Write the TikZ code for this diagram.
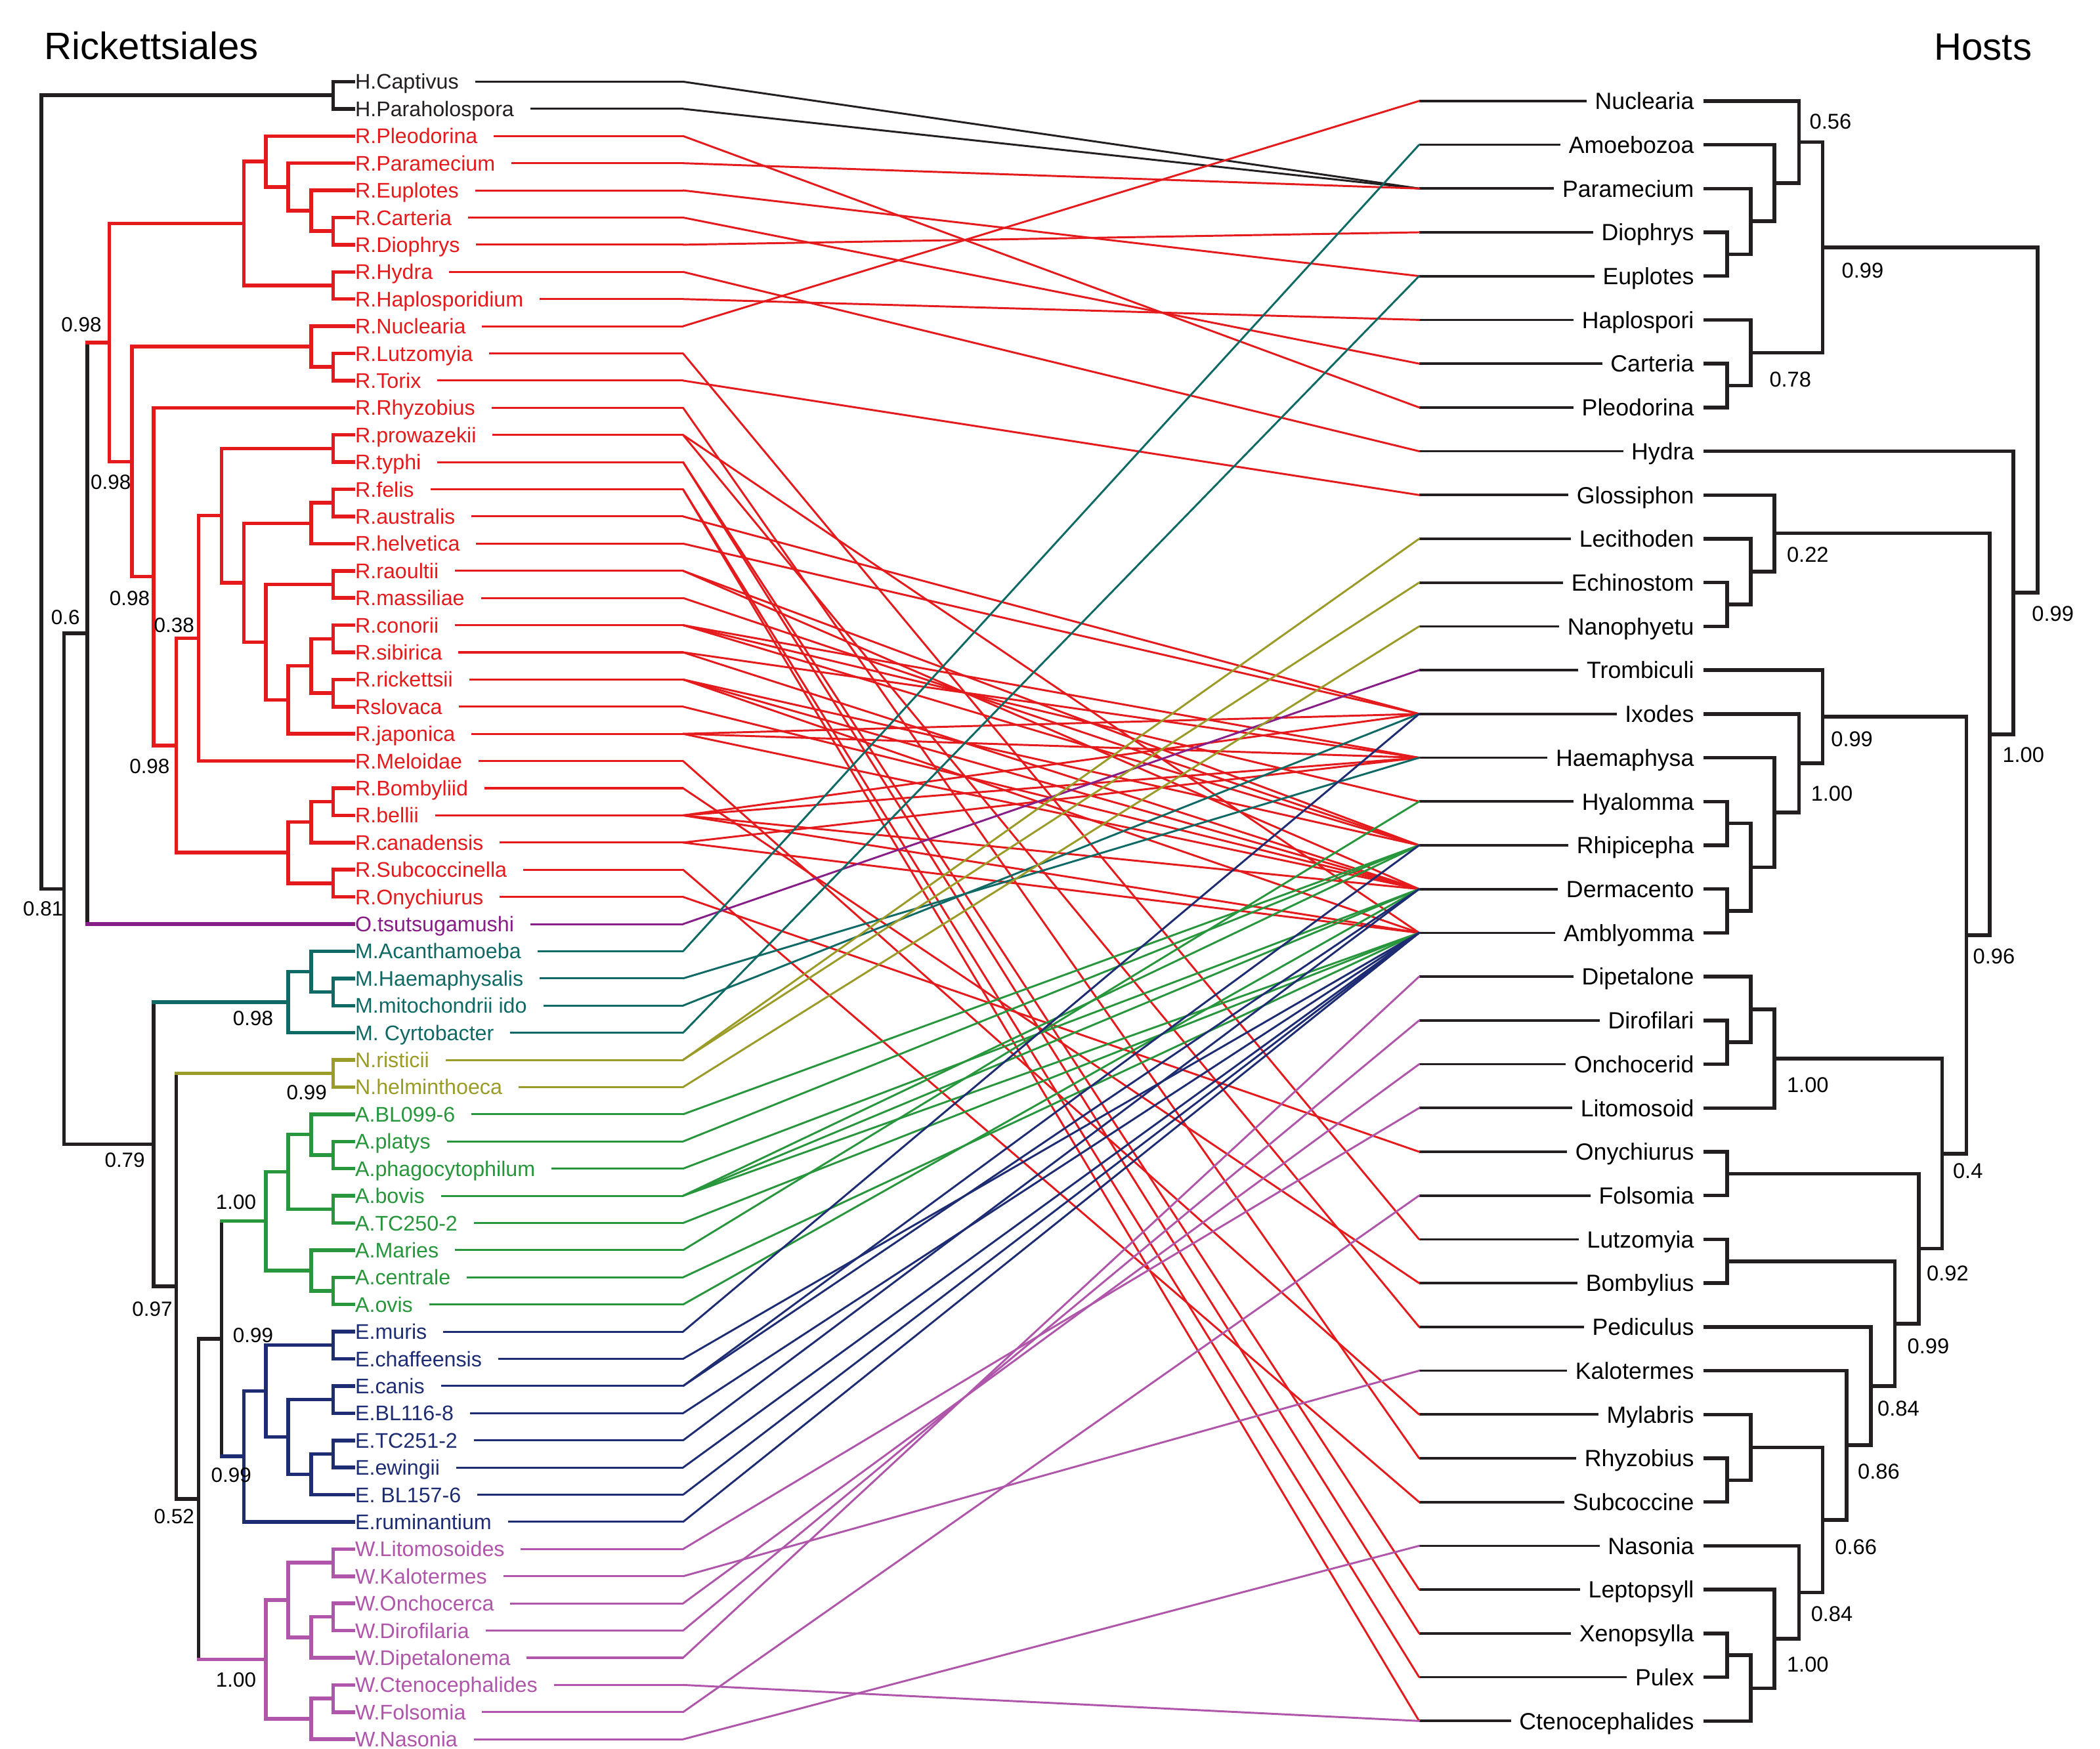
\documentclass[tikz,border=0pt]{standalone}
\usepackage{fontspec}
\setmainfont{Liberation Sans}
\usetikzlibrary{calc}
\definecolor{rred}{RGB}{228,26,28}
\definecolor{rblk}{RGB}{35,31,32}
\definecolor{rpur}{RGB}{135,30,135}
\definecolor{rteal}{RGB}{15,105,100}
\definecolor{rolive}{RGB}{155,155,40}
\definecolor{rgreen}{RGB}{40,150,60}
\definecolor{rnavy}{RGB}{30,45,115}
\definecolor{rpink}{RGB}{176,86,170}
\tikzset{
  tree/.style={line width=2.7pt,line cap=rect},
  stub/.style={line width=1.5pt},
  conn/.style={line width=1.45pt,line cap=round},
  hstub/.style={line width=1.8pt,rblk},
  llab/.style={anchor=west,inner sep=0pt,font=\fontsize{15.8}{18}\selectfont,text height=11.3pt,text depth=0pt},
  hlab/.style={anchor=east,inner sep=0pt,font=\fontsize{17.5}{20}\selectfont,text height=12.5pt,text depth=0pt,text=black},
  supl/.style={anchor=base west,inner sep=0pt,font=\fontsize{15.4}{18}\selectfont,text=black},
  supr/.style={anchor=base west,inner sep=0pt,font=\fontsize{16}{18}\selectfont,text=black},
  ttl/.style={anchor=base west,inner sep=0pt,font=\fontsize{28.5}{32}\selectfont,text=black}
}
\newcommand{\clade}[6]{%
  \draw[tree,#4] (#2 -| #1) -- (#3 -| #1);
  \draw[tree,#5] (#2) -- (#2 -| #1);
  \draw[tree,#6] (#3) -- (#3 -| #1);}
\newcommand{\cl}[3]{\clade{#1}{#2}{#3}{\curcol}{\curcol}{\curcol}}
\begin{document}
\begin{tikzpicture}[x=1pt,y=-1pt]
\fill[white] (0,0) rectangle (1568,1306);
\useasboundingbox (0,0) rectangle (1568,1306);

\node[ttl] (ttlL) at (33,44.2) {Rickettsiales};
\node[ttl] (ttlR) at (1444,45) {Hosts};

% ---------- left leaves ----------
\foreach \i/\nm/\c in {1/H.Captivus/rblk,2/H.Paraholospora/rblk,3/R.Pleodorina/rred,4/R.Paramecium/rred,5/R.Euplotes/rred,6/R.Carteria/rred,7/R.Diophrys/rred,8/R.Hydra/rred,9/R.Haplosporidium/rred,10/R.Nuclearia/rred,11/R.Lutzomyia/rred,12/R.Torix/rred,13/R.Rhyzobius/rred,14/R.prowazekii/rred,15/R.typhi/rred,16/R.felis/rred,17/R.australis/rred,18/R.helvetica/rred,19/R.raoultii/rred,20/R.massiliae/rred,21/R.conorii/rred,22/R.sibirica/rred,23/R.rickettsii/rred,24/Rslovaca/rred,25/R.japonica/rred,26/R.Meloidae/rred,27/R.Bombyliid/rred,28/R.bellii/rred,29/R.canadensis/rred,30/R.Subcoccinella/rred,31/R.Onychiurus/rred,32/O.tsutsugamushi/rpur,33/M.Acanthamoeba/rteal,34/M.Haemaphysalis/rteal,35/M.mitochondrii ido/rteal,36/M. Cyrtobacter/rteal,37/N.risticii/rolive,38/N.helminthoeca/rolive,39/A.BL099-6/rgreen,40/A.platys/rgreen,41/A.phagocytophilum/rgreen,42/A.bovis/rgreen,43/A.TC250-2/rgreen,44/A.Maries/rgreen,45/A.centrale/rgreen,46/A.ovis/rgreen,47/E.muris/rnavy,48/E.chaffeensis/rnavy,49/E.canis/rnavy,50/E.BL116-8/rnavy,51/E.TC251-2/rnavy,52/E.ewingii/rnavy,53/E. BL157-6/rnavy,54/E.ruminantium/rnavy,55/W.Litomosoides/rpink,56/W.Kalotermes/rpink,57/W.Onchocerca/rpink,58/W.Dirofilaria/rpink,59/W.Dipetalonema/rpink,60/W.Ctenocephalides/rpink,61/W.Folsomia/rpink,62/W.Nasonia/rpink}{
  \pgfmathsetmacro\yy{61+20.295*(\i-1)}
  \coordinate (lf\i) at (263.6,\yy);
  \coordinate (s\i) at (510,\yy);
  \node[llab,text=\c] (t\i) at (265,\yy) {\nm};
  \draw[stub,\c] (t\i.east |- lf\i) ++(12,0) -- (s\i);
}

% ---------- hosts ----------
\foreach \k/\nm in {1/Nuclearia,2/Amoebozoa,3/Paramecium,4/Diophrys,5/Euplotes,6/Haplospori,7/Carteria,8/Pleodorina,9/Hydra,10/Glossiphon,11/Lecithoden,12/Echinostom,13/Nanophyetu,14/Trombiculi,15/Ixodes,16/Haemaphysa,17/Hyalomma,18/Rhipicepha,19/Dermacento,20/Amblyomma,21/Dipetalone,22/Dirofilari,23/Onchocerid,24/Litomosoid,25/Onychiurus,26/Folsomia,27/Lutzomyia,28/Bombylius,29/Pediculus,30/Kalotermes,31/Mylabris,32/Rhyzobius,33/Subcoccine,34/Nasonia,35/Leptopsyll,36/Xenopsylla,37/Pulex,38/Ctenocephalides}{
  \pgfmathsetmacro\yy{75.4+32.7*(\k-1)}
  \coordinate (hp\k) at (1059.6,\yy);
  \coordinate (rl\k) at (1273.1,\yy);
  \node[hlab] (h\k) at (1265,\yy) {\nm};
  \draw[hstub] (h\k.west |- hp\k) ++(-6,0) -- (hp\k);
}

% ---------- connectors ----------
\foreach \i/\k/\c in {1/3/rblk,2/3/rblk,3/8/rred,4/3/rred,5/5/rred,6/7/rred,7/4/rred,8/9/rred,9/6/rred,10/1/rred,11/27/rred,12/10/rred,13/32/rred,14/29/rred,14/20/rred,15/36/rred,15/35/rred,16/38/rred,16/37/rred,17/15/rred,18/15/rred,19/19/rred,19/18/rred,20/18/rred,21/18/rred,21/16/rred,21/17/rred,22/19/rred,22/16/rred,23/19/rred,23/18/rred,23/20/rred,24/19/rred,25/16/rred,25/15/rred,25/19/rred,26/31/rred,27/28/rred,28/15/rred,28/16/rred,28/19/rred,28/20/rred,29/16/rred,29/20/rred,30/33/rred,31/25/rred,32/14/rpur,33/2/rteal,34/16/rteal,35/15/rteal,36/5/rteal,37/11/rolive,37/12/rolive,38/13/rolive,39/18/rgreen,40/18/rgreen,41/19/rgreen,42/18/rgreen,42/19/rgreen,42/20/rgreen,43/20/rgreen,44/17/rgreen,45/20/rgreen,46/19/rgreen,47/15/rnavy,48/20/rnavy,49/18/rnavy,49/19/rnavy,50/20/rnavy,51/19/rnavy,52/20/rnavy,53/20/rnavy,54/20/rnavy,55/24/rpink,56/30/rpink,57/23/rpink,58/22/rpink,59/21/rpink,60/38/rpink,61/26/rpink,62/34/rpink}{
  \draw[conn,\c] (s\i) -- (hp\k);
}

% ---------- left tree nodes ----------
\coordinate (nH) at (248.7,71.15);
\coordinate (nCD) at (248.7,172.65);
\coordinate (nEu) at (232.4,157.4);
\coordinate (nPa) at (215.2,139.65);
\coordinate (nPl) at (198.6,120.6);
\coordinate (nHH) at (248.7,213.25);
\coordinate (nT1) at (182,166.9);
\coordinate (nLT) at (248.7,274.05);
\coordinate (nNu) at (232.4,258.9);
\coordinate (npt) at (248.7,334.95);
\coordinate (nfa) at (248.7,375.55);
\coordinate (nhe) at (232.4,390.8);
\coordinate (nrm) at (248.7,436.45);
\coordinate (ncs) at (248.7,477.05);
\coordinate (nrs) at (248.7,517.65);
\coordinate (ncr) at (232.4,497.35);
\coordinate (nja) at (215.2,522.7);
\coordinate (nrmj) at (198.6,479.6);
\coordinate (nspot) at (182,435.2);
\coordinate (ntyp) at (165.4,385.1);
\coordinate (nmel) at (148.2,476.7);
\coordinate (nBb) at (248.7,598.75);
\coordinate (nca) at (232.4,613.98);
\coordinate (nSO) at (248.7,659.65);
\coordinate (nbel) at (215.2,636.8);
\coordinate (n38) at (131.6,556.75);
\coordinate (nRh) at (114.8,430.6);
\coordinate (n98c) at (98.5,344.75);
\coordinate (n98b) at (81.6,255.8);
\coordinate (n06) at (65.3,472.95);
\coordinate (nHM) at (248.7,740.85);
\coordinate (nAcHM) at (232.4,725.6);
\coordinate (nM) at (215.2,748.45);
\coordinate (nN) at (248.7,801.75);
\coordinate (npp) at (248.7,862.55);
\coordinate (nBL) at (232.4,847.3);
\coordinate (nbt) at (248.7,903.15);
\coordinate (nA1) at (215.2,875.2);
\coordinate (nco) at (248.7,964.05);
\coordinate (nMa) at (232.4,948.8);
\coordinate (nA) at (198.6,912.0);
\coordinate (nmc) at (248.7,1004.65);
\coordinate (ncB) at (248.7,1045.25);
\coordinate (nTe) at (248.7,1085.85);
\coordinate (nB157) at (232.4,1101.1);
\coordinate (nE3) at (215.2,1073.2);
\coordinate (nE2) at (198.6,1038.9);
\coordinate (nE) at (182,1087.75);
\coordinate (nAE) at (165.4,999.9);
\coordinate (nLK) at (248.7,1166.95);
\coordinate (nOD) at (248.7,1207.55);
\coordinate (nDp) at (232.4,1222.8);
\coordinate (nW1) at (215.2,1194.9);
\coordinate (nCF) at (248.7,1268.45);
\coordinate (nNa) at (232.4,1283.7);
\coordinate (nW) at (198.6,1239.3);
\coordinate (n52) at (148.2,1119.6);
\coordinate (n97) at (131.6,960.7);
\coordinate (n79) at (114.8,854.6);
\coordinate (n81) at (47.8,663.8);
\coordinate (nroot) at (30.9,367.5);

\def\curcol{rblk}
\cl{nH}{lf1}{lf2}
\def\curcol{rred}
\cl{nCD}{lf6}{lf7}
\cl{nEu}{lf5}{nCD}
\cl{nPa}{lf4}{nEu}
\cl{nPl}{lf3}{nPa}
\cl{nHH}{lf8}{lf9}
\cl{nT1}{nPl}{nHH}
\cl{nLT}{lf11}{lf12}
\cl{nNu}{lf10}{nLT}
\cl{npt}{lf14}{lf15}
\cl{nfa}{lf16}{lf17}
\cl{nhe}{nfa}{lf18}
\cl{nrm}{lf19}{lf20}
\cl{ncs}{lf21}{lf22}
\cl{nrs}{lf23}{lf24}
\cl{ncr}{ncs}{nrs}
\cl{nja}{ncr}{lf25}
\cl{nrmj}{nrm}{nja}
\cl{nspot}{nhe}{nrmj}
\cl{ntyp}{npt}{nspot}
\cl{nmel}{ntyp}{lf26}
\cl{nBb}{lf27}{lf28}
\cl{nca}{nBb}{lf29}
\cl{nSO}{lf30}{lf31}
\cl{nbel}{nca}{nSO}
\cl{n38}{nmel}{nbel}
\cl{nRh}{lf13}{n38}
\cl{n98c}{nNu}{nRh}
\cl{n98b}{nT1}{n98c}
\clade{n06}{n98b}{lf32}{rblk}{rred}{rpur}
\def\curcol{rteal}
\cl{nHM}{lf34}{lf35}
\cl{nAcHM}{lf33}{nHM}
\cl{nM}{nAcHM}{lf36}
\def\curcol{rolive}
\cl{nN}{lf37}{lf38}
\def\curcol{rgreen}
\cl{npp}{lf40}{lf41}
\cl{nBL}{lf39}{npp}
\cl{nbt}{lf42}{lf43}
\cl{nA1}{nBL}{nbt}
\cl{nco}{lf45}{lf46}
\cl{nMa}{lf44}{nco}
\cl{nA}{nA1}{nMa}
\def\curcol{rnavy}
\cl{nmc}{lf47}{lf48}
\cl{ncB}{lf49}{lf50}
\cl{nTe}{lf51}{lf52}
\cl{nB157}{nTe}{lf53}
\cl{nE3}{ncB}{nB157}
\cl{nE2}{nmc}{nE3}
\cl{nE}{nE2}{lf54}
\clade{nAE}{nA}{nE}{rblk}{rgreen}{rnavy}
\def\curcol{rpink}
\cl{nLK}{lf55}{lf56}
\cl{nOD}{lf57}{lf58}
\cl{nDp}{nOD}{lf59}
\cl{nW1}{nLK}{nDp}
\cl{nCF}{lf60}{lf61}
\cl{nNa}{nCF}{lf62}
\cl{nW}{nW1}{nNa}
\clade{n52}{nAE}{nW}{rblk}{rblk}{rpink}
\clade{n97}{nN}{n52}{rblk}{rolive}{rblk}
\clade{n79}{nM}{n97}{rblk}{rteal}{rblk}
\def\curcol{rblk}
\cl{n81}{n06}{n79}
\cl{nroot}{nH}{n81}

% ---------- right tree nodes ----------
\coordinate (rDE) at (1289.5,189.85);
\coordinate (rPDE) at (1307.2,165.3);
\coordinate (rA) at (1324.9,136.7);
\coordinate (rN) at (1343.3,106.05);
\coordinate (rCP) at (1289.5,287.95);
\coordinate (rH) at (1307.2,263.4);
\coordinate (rprot) at (1361.0,184.7);
\coordinate (rEN) at (1289.5,451.45);
\coordinate (rLe) at (1307.2,426.9);
\coordinate (rGl) at (1324.9,398.3);
\coordinate (rHR) at (1289.5,614.95);
\coordinate (rDA) at (1289.5,680.35);
\coordinate (rHRDA) at (1307.2,647.65);
\coordinate (rHa) at (1324.9,606.8);
\coordinate (rIx) at (1343.3,570.0);
\coordinate (rTr) at (1361.0,535.25);
\coordinate (rDO) at (1289.5,778.45);
\coordinate (rDp) at (1307.2,753.9);
\coordinate (rLi) at (1324.9,790.7);
\coordinate (rOF) at (1289.5,876.55);
\coordinate (rLB) at (1289.5,941.95);
\coordinate (rRS) at (1289.5,1105.45);
\coordinate (rMy) at (1307.2,1080.9);
\coordinate (rXP) at (1289.5,1236.25);
\coordinate (rXPC) at (1307.2,1260.8);
\coordinate (rLp) at (1324.9,1224.0);
\coordinate (rNa) at (1343.3,1189.25);
\coordinate (r66) at (1361.0,1135.1);
\coordinate (r86) at (1378.7,1079.4);
\coordinate (r84) at (1396.8,1035.2);
\coordinate (r99b) at (1414.8,988.6);
\coordinate (r92) at (1432.8,932.6);
\coordinate (r04) at (1450.2,861.65);
\coordinate (r96) at (1468.3,698.45);
\coordinate (r100) at (1485.6,548.4);
\coordinate (rHy) at (1503.4,442.7);
\coordinate (rroot) at (1521.4,313.7);

\def\curcol{rblk}
\cl{rDE}{rl4}{rl5}
\cl{rPDE}{rl3}{rDE}
\cl{rA}{rl2}{rPDE}
\cl{rN}{rl1}{rA}
\cl{rCP}{rl7}{rl8}
\cl{rH}{rl6}{rCP}
\cl{rprot}{rN}{rH}
\cl{rEN}{rl12}{rl13}
\cl{rLe}{rl11}{rEN}
\cl{rGl}{rl10}{rLe}
\cl{rHR}{rl17}{rl18}
\cl{rDA}{rl19}{rl20}
\cl{rHRDA}{rHR}{rDA}
\cl{rHa}{rl16}{rHRDA}
\cl{rIx}{rl15}{rHa}
\cl{rTr}{rl14}{rIx}
\cl{rDO}{rl22}{rl23}
\cl{rDp}{rl21}{rDO}
\cl{rLi}{rDp}{rl24}
\cl{rOF}{rl25}{rl26}
\cl{rLB}{rl27}{rl28}
\cl{rRS}{rl32}{rl33}
\cl{rMy}{rl31}{rRS}
\cl{rXP}{rl36}{rl37}
\cl{rXPC}{rXP}{rl38}
\cl{rLp}{rl35}{rXPC}
\cl{rNa}{rl34}{rLp}
\cl{r66}{rMy}{rNa}
\cl{r86}{rl30}{r66}
\cl{r84}{rl29}{r86}
\cl{r99b}{rLB}{r84}
\cl{r92}{rOF}{r99b}
\cl{r04}{rLi}{r92}
\cl{r96}{rTr}{r04}
\cl{r100}{rGl}{r96}
\cl{rHy}{rl9}{r100}
\cl{rroot}{rprot}{rHy}

% ---------- support values ----------
\node[supl] (bl1) at (17,683.8) {0.81};
\node[supl] (bl2) at (38,466.4) {0.6};
\node[supl] (bl3) at (45.6,248) {0.98};
\node[supl] (bl4) at (67.5,365.5) {0.98};
\node[supl] (bl5) at (81.6,452.3) {0.98};
\node[supl] (bl6) at (114.8,472.3) {0.38};
\node[supl] (bl7) at (96.5,577.8) {0.98};
\node[supl] (bl8) at (173.8,765.9) {0.98};
\node[supl] (bl9) at (213.8,821.1) {0.99};
\node[supl] (bl10) at (78,871.9) {0.79};
\node[supl] (bl11) at (98.5,982.8) {0.97};
\node[supl] (bl12) at (114.8,1138) {0.52};
\node[supl] (bl13) at (161,903) {1.00};
\node[supl] (bl14) at (173.8,1002.4) {0.99};
\node[supl] (bl15) at (157.5,1107) {0.99};
\node[supl] (bl16) at (161,1260) {1.00};

\node[supr] (br1) at (1351,96.3) {0.56};
\node[supr] (br2) at (1375,207.7) {0.99};
\node[supr] (br3) at (1321,288.7) {0.78};
\node[supr] (br4) at (1334,419.7) {0.22};
\node[supr] (br5) at (1517,463.7) {0.99};
\node[supr] (br6) at (1495,569.2) {1.00};
\node[supr] (br7) at (1367,557.4) {0.99};
\node[supr] (br8) at (1352,598.2) {1.00};
\node[supr] (br9) at (1473,719.7) {0.96};
\node[supr] (br10) at (1334,815.7) {1.00};
\node[supr] (br11) at (1458,880.3) {0.4};
\node[supr] (br12) at (1438.5,956.5) {0.92};
\node[supr] (br13) at (1424,1010.7) {0.99};
\node[supr] (br14) at (1401.7,1057.7) {0.84};
\node[supr] (br15) at (1387,1104.7) {0.86};
\node[supr] (br16) at (1370,1160.7) {0.66};
\node[supr] (br17) at (1352,1211.1) {0.84};
\node[supr] (br18) at (1334,1248.7) {1.00};
\end{tikzpicture}
\end{document}
